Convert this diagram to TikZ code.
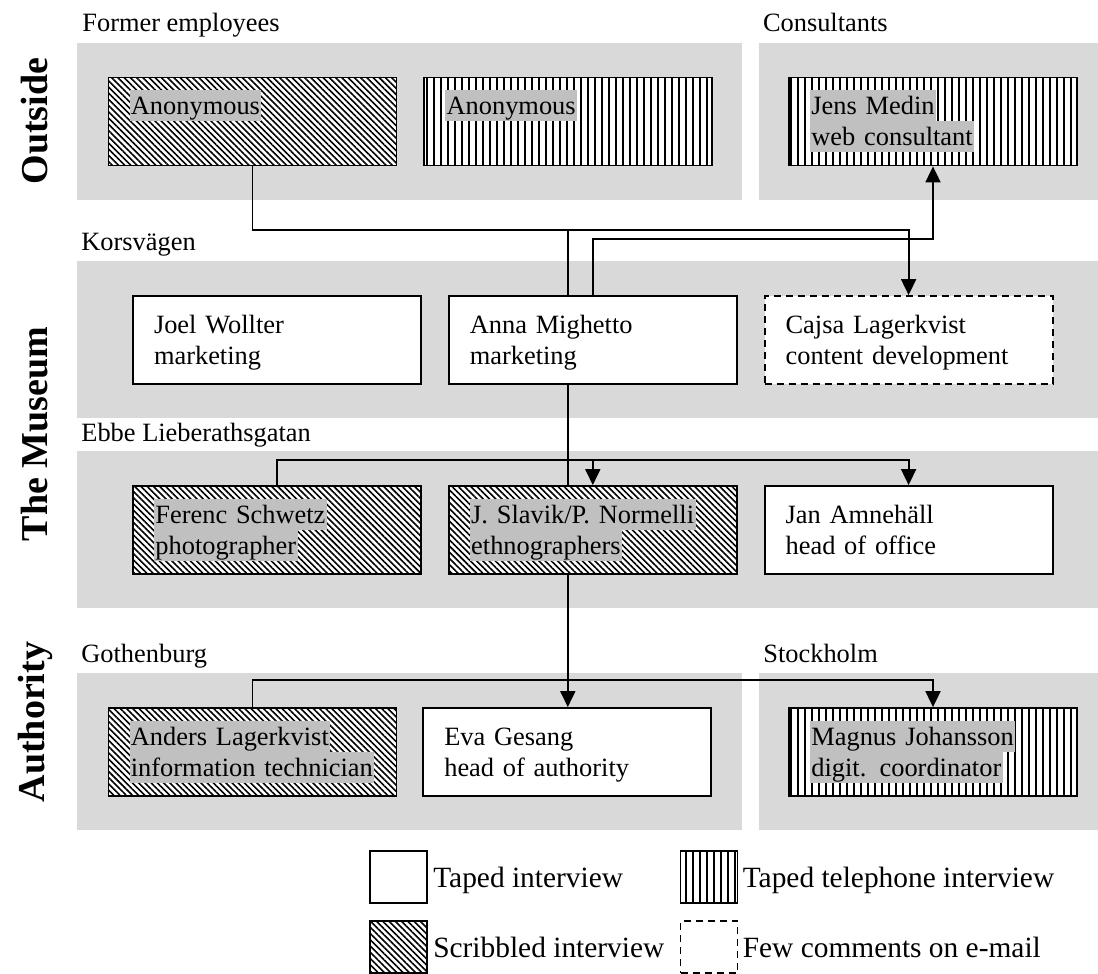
\documentclass[tikz,border=0pt]{standalone}
\usepackage{fontspec}
\setmainfont{Liberation Serif}
\usetikzlibrary{arrows.meta,positioning,patterns.meta}
\definecolor{areagray}{RGB}{217,217,217}
\definecolor{markgray}{RGB}{192,192,192}
\newcommand{\boxfont}{\fontsize{13.2pt}{15.5pt}\selectfont}
\newcommand{\keyfont}{\fontsize{14.7pt}{17pt}\selectfont}
\newcommand{\sidefont}{\fontsize{19pt}{22pt}\selectfont\bfseries}
\newcommand{\linestrut}{\rule[-3.25pt]{0pt}{15.5pt}}
\newcommand{\markrow}[1]{{\setlength{\fboxsep}{0pt}\colorbox{markgray}{\kern0.7pt\linestrut#1\kern0.7pt}}}
\newcommand{\textrow}[1]{\linestrut#1}
\tikzset{
  person/.style={draw, line width=0.9pt, minimum height=44pt, text width=123pt,
    inner xsep=10.5pt, inner ysep=0pt, align=left, font=\boxfont},
  hatchfill/.style={preaction={fill=white},
    pattern={Lines[angle=-45,distance=2.2pt,line width=0.8pt]}},
  stripefill/.style={preaction={fill=white},
    pattern={Lines[angle=90,distance=3.5pt,line width=0.9pt]}},
  emailline/.style={dash pattern=on 3.5pt off 2.5pt},
  taped/.style={person, fill=white},
  scribbled/.style={person, hatchfill},
  phone/.style={person, stripefill},
  email/.style={person, fill=white, emailline},
  area/.style={fill=areagray, draw=none, inner sep=0pt, anchor=north west,
    minimum height=78.5pt},
  areatitle/.style={anchor=base west, inner sep=0pt, font=\boxfont},
  side/.style={rotate=90, font=\sidefont, inner sep=0pt},
  keybox/.style={draw, line width=0.9pt, minimum width=28.5pt, minimum height=26pt,
    inner sep=0pt},
  keytext/.style={anchor=base west, inner sep=0pt, font=\keyfont},
  link/.style={line width=0.9pt},
  pointer/.style={link, -{Triangle[width=7.5pt,length=8pt]}}
}
\begin{document}
\begin{tikzpicture}[x=0.5pt, y=-0.5pt]
  \useasboundingbox (0,0) rectangle (1098,974);
  % grey areas
  \node[area, minimum width=332.5pt] (former) at (77,43) {};
  \node[area, minimum width=169.5pt] (consult) at (759,43) {};
  \node[area, minimum width=510.5pt] (korsv) at (77,261) {};
  \node[area, minimum width=510.5pt] (ebbe) at (77,451) {};
  \node[area, minimum width=332.5pt] (gbg) at (77,673) {};
  \node[area, minimum width=169.5pt] (sthlm) at (759,673) {};
  \node[areatitle] (formertitle) at ([xshift=2.5pt,yshift=5.5pt]former.north west) {Former employees};
  \node[areatitle] (consulttitle) at ([xshift=1.8pt,yshift=5.5pt]consult.north west) {Consultants};
  \node[areatitle] (korsvtitle) at ([xshift=2pt,yshift=5.5pt]korsv.north west) {Korsvägen};
  \node[areatitle] (ebbetitle) at ([xshift=2pt,yshift=5pt]ebbe.north west) {Ebbe Lieberathsgatan};
  \node[areatitle] (gbgtitle) at ([xshift=2pt,yshift=5.5pt]gbg.north west) {Gothenburg};
  \node[areatitle] (sthlmtitle) at ([xshift=2pt,yshift=5.5pt]sthlm.north west) {Stockholm};
  \node[side] (outside) at (35,121) {Outside};
  \node[side] (museum) at (35,434) {The Museum};
  \node[side] (authority) at (35,722) {Authority};
  % people
  \node[scribbled] (anonA) at (252.5,121.5) {\markrow{Anonymous}\\\linestrut};
  \node[phone, right=13pt of anonA] (anonB) {\markrow{Anonymous}\\\linestrut};
  \node[phone] (jens) at (933,121.5) {\markrow{Jens Medin}\\\markrow{web consultant}};
  \node[taped] (joel) at (277,340) {\textrow{Joel Wollter}\\\textrow{marketing}};
  \node[taped, right=13pt of joel] (anna) {\textrow{Anna Mighetto}\\\textrow{marketing}};
  \node[email, right=13pt of anna] (cajsa) {\textrow{Cajsa Lagerkvist}\\\textrow{content development}};
  \node[scribbled] (ferenc) at (277,530) {\markrow{Ferenc Schwetz}\\\markrow{photographer}};
  \node[scribbled, right=13pt of ferenc] (slavik) {\markrow{J. Slavik/P. Normelli}\\\markrow{ethnographers}};
  \node[taped, right=13pt of slavik] (jan) {\textrow{Jan Amnehäll}\\\textrow{head of office}};
  \node[scribbled] (anders) at (252.5,752) {\markrow{Anders Lagerkvist}\\\markrow{information technician}};
  \node[taped, right=12.5pt of anders] (eva) {\textrow{Eva Gesang}\\\textrow{head of authority}};
  \node[phone] (magnus) at (933,752) {\markrow{Magnus Johansson}\\\markrow{digit. coordinator}};
  % connections
  \path ([xshift=-12.5pt]anna.north) ++(0,-65) coordinate (fork);
  \draw[link] (anonA.south) |- (fork) -- ([xshift=-12.5pt]anna.north);
  \draw[pointer] (fork) -| (cajsa.north);
  \draw[pointer] (anna.north) -- ++(0,-56) -| (jens.south);
  \draw[link] ([xshift=-12.5pt]anna.south) -- ([xshift=-12.5pt]slavik.north);
  \draw[pointer] ([xshift=-12.5pt]slavik.south) -- ([xshift=-12.5pt]slavik.south |- eva.north);
  \draw[pointer] (ferenc.north) -- ++(0,-25) -| (jan.north);
  \draw[pointer] ([yshift=12.5pt]slavik.north) -- (slavik.north);
  \draw[pointer] (anders.north) -- ++(0,-27) -| (magnus.north);
  % legend
  \node[keybox, fill=white] (keytaped) at (398.5,877) {};
  \node[keytext] (keytapedtext) at ([xshift=2.5pt,yshift=-5pt]keytaped.east) {Taped interview};
  \node[keybox, stripefill] (keyphone) at (709,877) {};
  \node[keytext] (keyphonetext) at ([xshift=2pt,yshift=-5pt]keyphone.east) {Taped telephone interview};
  \node[keybox, hatchfill] (keyscribble) at (398.5,947) {};
  \node[keytext] (keyscribbletext) at ([xshift=2.5pt,yshift=-5pt]keyscribble.east) {Scribbled interview};
  \node[keybox, fill=white, emailline] (keymail) at (709,947) {};
  \node[keytext] (keymailtext) at ([xshift=2pt,yshift=-5pt]keymail.east) {Few comments on e-mail};
\end{tikzpicture}
\end{document}
